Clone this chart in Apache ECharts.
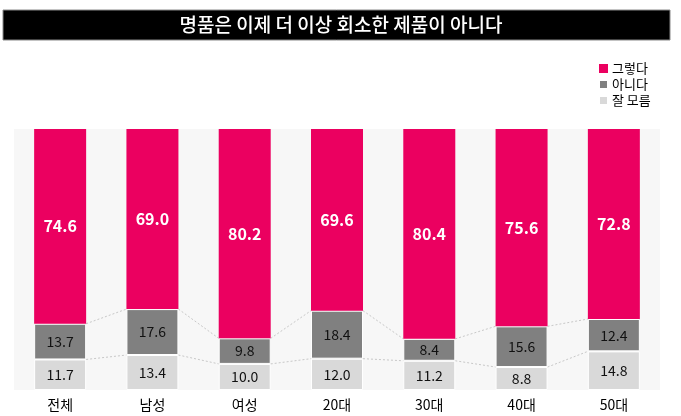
<!DOCTYPE html>
<html><head><meta charset="utf-8">
<script src="https://cdn.jsdelivr.net/npm/echarts@6/dist/echarts.min.js"></script>
<style>html,body{margin:0;padding:0;background:#fff}#c{width:681px;height:416px}</style>
</head><body><div id="c"></div>
<script>
const titleText = '명품은 이제 더 이상 회소한 제품이 아니다';
const categories = ['전체','남성','여성','20대','30대','40대','50대'];
const yes = [74.6, 69.0, 80.2, 69.6, 80.4, 75.6, 72.8];
const no = [13.7, 17.6, 9.8, 18.4, 8.4, 15.6, 12.4];
const unknown = [11.7, 13.4, 10.0, 12.0, 11.2, 8.8, 14.8];
const seriesNames = ['그렇다','아니다','잘 모름'];

const FONT = '"Noto Sans CJK KR", sans-serif';
const BAR_W = 52;
const chart = echarts.init(document.getElementById('c'));

const lineData = categories.slice(0, -1).map((c, i) => [i, unknown[i], unknown[i+1], unknown[i] + no[i], unknown[i+1] + no[i+1]]);

chart.setOption({
  animation: false,
  graphic: [
    {type: 'rect', shape: {x: 3, y: 10, width: 667, height: 30}, style: {fill: '#000', stroke: '#888', lineWidth: 1}, z: 10},
    {type: 'text', x: 341, y: 25, style: {text: titleText, fill: '#fff', font: '500 19px ' + FONT, textAlign: 'center', textVerticalAlign: 'middle'}, z: 11}
  ],
  legend: {
    orient: 'vertical', left: 593, top: 57,
    itemWidth: 9, itemHeight: 9, itemGap: 3,
    icon: 'rect',
    data: seriesNames,
    textStyle: {fontFamily: FONT, fontSize: 13, lineHeight: 13, color: '#000', padding: [0, 0, 0, -1]}
  },
  grid: {left: 14, right: 21, top: 129, bottom: 26, show: true, backgroundColor: '#f7f7f7', borderWidth: 0},
  xAxis: {
    type: 'category', data: categories,
    axisLine: {show: false}, axisTick: {show: false},
    axisLabel: {fontFamily: FONT, fontSize: 14, color: '#000', margin: 8}
  },
  yAxis: {type: 'value', min: 0, max: 100, show: false, splitLine: {show: false}},
  series: [
    {
      name: '잘 모름', type: 'bar', stack: 's', data: unknown, barWidth: BAR_W,
      itemStyle: {color: '#d9d9d9', borderColor: '#fff', borderWidth: 1},
      label: {show: true, position: 'inside', formatter: p => p.value.toFixed(1), fontFamily: FONT, fontSize: 14, color: '#111'}
    },
    {
      name: '아니다', type: 'bar', stack: 's', data: no, barWidth: BAR_W,
      itemStyle: {color: '#808080', borderColor: '#fff', borderWidth: 1},
      label: {show: true, position: 'inside', formatter: p => p.value.toFixed(1), fontFamily: FONT, fontSize: 14, color: '#111'}
    },
    {
      name: '그렇다', type: 'bar', stack: 's', data: yes, barWidth: BAR_W,
      itemStyle: {color: '#eb0060', borderColor: '#f7f7f7', borderWidth: 0},
      label: {show: true, position: 'inside', formatter: p => p.value.toFixed(1), fontFamily: FONT, fontSize: 16, fontWeight: 'bold', color: '#fff'}
    },
    {
      type: 'custom', name: 'connectors', silent: true, z: 1,
      data: lineData,
      renderItem: function (params, api) {
        const i = api.value(0);
        const children = [];
        [[1, 2], [3, 4]].forEach(([a, b]) => {
          const p1 = api.coord([i, api.value(a)]);
          const p2 = api.coord([i + 1, api.value(b)]);
          children.push({
            type: 'line',
            shape: {x1: p1[0] + BAR_W / 2, y1: p1[1], x2: p2[0] - BAR_W / 2, y2: p2[1]},
            style: {stroke: '#c8c8c8', lineWidth: 1, lineDash: [2, 2]}
          });
        });
        return {type: 'group', children};
      }
    }
  ]
});
</script></body></html>
